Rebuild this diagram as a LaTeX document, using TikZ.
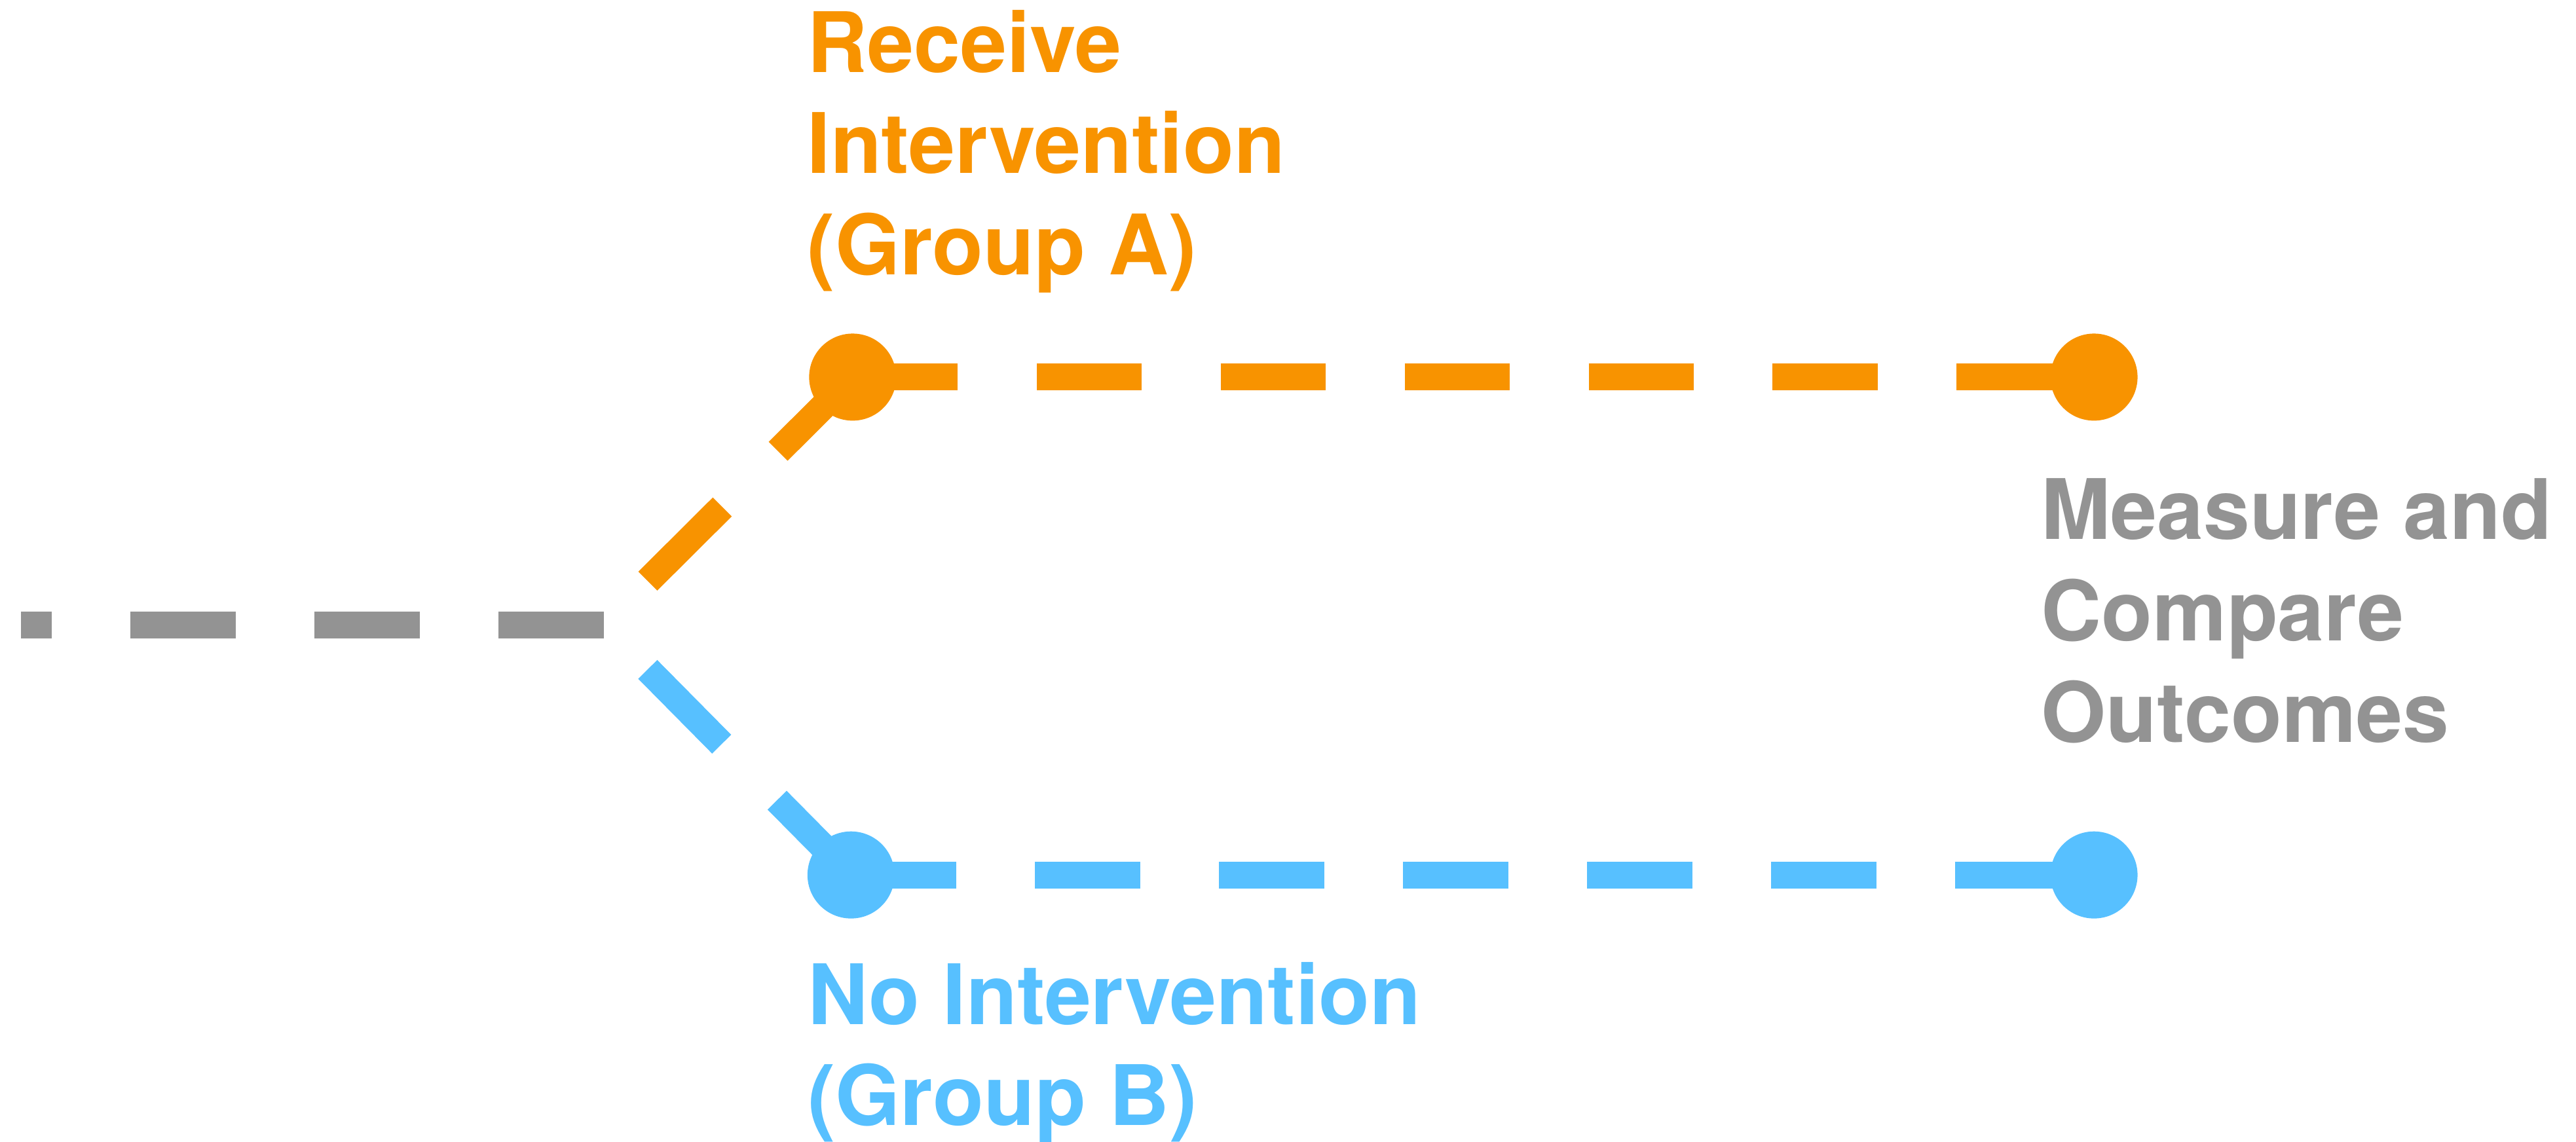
\documentclass[tikz,border=0pt]{standalone}
\usepackage{fontspec}
\setmainfont{TeX Gyre Heros}
\usetikzlibrary{positioning}
\definecolor{grpA}{RGB}{248,147,0}
\definecolor{grpB}{RGB}{87,192,255}
\definecolor{base}{RGB}{147,147,147}

\begin{document}
\begin{tikzpicture}[x=1pt,y=-1pt,inner sep=0pt,
  dot/.style={circle,minimum size=53pt},
  link/.style={line width=16.3pt,dash pattern=on 64pt off 48pt},
  lbl/.style={anchor=base west,align=left,
    font=\fontsize{50.8}{61.6}\selectfont\bfseries}]
\useasboundingbox (0,0) rectangle (1568,695);
\coordinate (S) at (12.8,380.5);
\coordinate (O) at (367.5,380.5);
\coordinate (A) at (519,229.6);
\coordinate (A2) at (1274.6,229.6);
\coordinate (B) at (518,532.7);
\coordinate (B2) at (1274.6,532.7);

\node (a1) at (A) [dot,fill=grpA] {};
\node (a2) at (A2) [dot,fill=grpA] {};
\node (b1) at (B) [dot,fill=grpB] {};
\node (b2) at (B2) [dot,fill=grpB] {};

\draw[link,base] (O) -- (S);
\draw[link,grpA] (a1.center) -- (O);
\draw[link,grpB] (b1.center) -- (O);
\draw[link,grpA] (a1.center) -- (a2.center);
\draw[link,grpB] (b1.center) -- (b2.center);

% base anchor sits on the last line
\node (rcv) at (491.2,167.2) [lbl,text=grpA] {Receive\\Intervention\\(Group A)};
\node (none) at (491.5,685.3) [lbl,text=grpB] {No Intervention\\(Group B)};
\node (cmp) at (1242.2,451.7) [lbl,text=base] {Measure and\\Compare\\Outcomes};
\end{tikzpicture}
\end{document}
